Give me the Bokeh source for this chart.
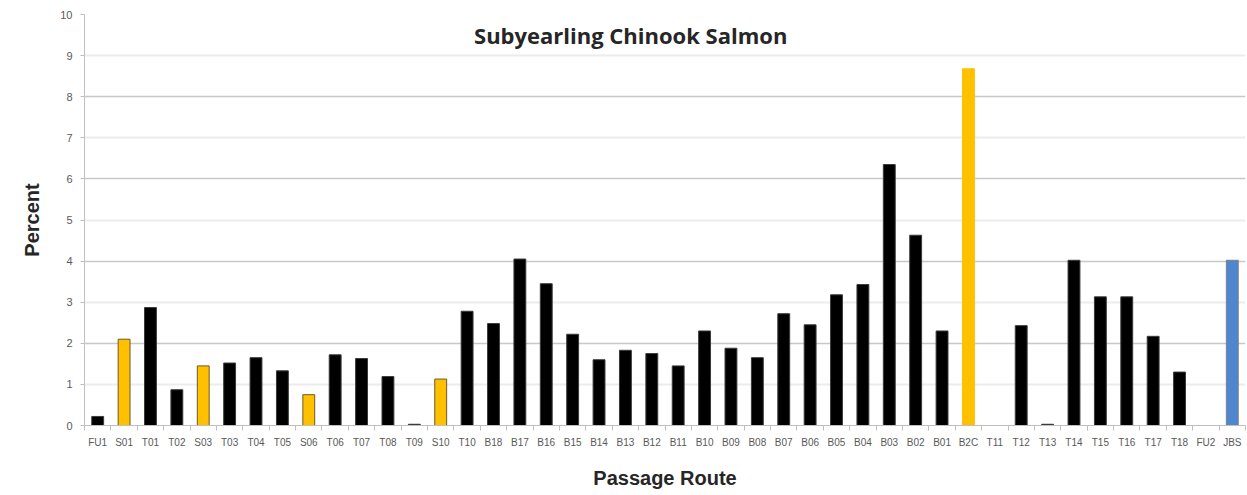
from bokeh.plotting import figure
from bokeh.models import FixedTicker, Label, Grid, ColumnDataSource, Range1d
from bokeh.embed import file_html
from bokeh.resources import INLINE

routes = ["FU1", "S01", "T01", "T02", "S03", "T03", "T04", "T05", "S06", "T06",
          "T07", "T08", "T09", "S10", "T10", "B18", "B17", "B16", "B15", "B14",
          "B13", "B12", "B11", "B10", "B09", "B08", "B07", "B06", "B05", "B04",
          "B03", "B02", "B01", "B2C", "T11", "T12", "T13", "T14", "T15", "T16",
          "T17", "T18", "FU2", "JBS"]
percent = [0.22, 2.10, 2.87, 0.87, 1.45, 1.52, 1.65, 1.33, 0.75, 1.72,
           1.63, 1.19, 0.03, 1.13, 2.78, 2.48, 4.05, 3.45, 2.22, 1.60,
           1.83, 1.75, 1.45, 2.30, 1.88, 1.65, 2.72, 2.45, 3.18, 3.43,
           6.35, 4.63, 2.30, 8.68, 0.0, 2.43, 0.03, 4.02, 3.13, 3.13,
           2.17, 1.30, 0.0, 4.02]
y_ticks = list(range(0, 11))

def fill_for(r):
    if r.startswith("S") or r == "B2C":
        return "#FFC000"
    if r == "JBS":
        return "#4F86D0"
    return "#000000"

def line_for(r):
    if r == "B2C":
        return "#FFC000"
    if r.startswith("S"):
        return "#6b5a2a"
    if r == "JBS":
        return "#7f7f7f"
    return "#3a3a3a"

xs = [i + 0.5 for i in range(len(routes))]
src = ColumnDataSource(dict(x=xs, top=percent, route=routes,
                            fill=[fill_for(r) for r in routes],
                            line=[line_for(r) for r in routes]))

p = figure(frame_width=1161, frame_height=411, output_backend="svg",
           toolbar_location=None, x_range=Range1d(0, len(routes)),
           y_range=Range1d(0, 10))
p.min_border_left = 84
p.min_border_right = 2
p.min_border_top = 14
p.min_border_bottom = 0
p.outline_line_color = None

p.vbar(x="x", top="top", width=0.45, source=src, fill_color="fill",
       line_color="line", line_width=1)

# x axis: labels at category centres, ticks at category boundaries
xa = p.xaxis[0]
xa.ticker = FixedTicker(ticks=xs, minor_ticks=list(range(len(routes) + 1)))
xa.major_label_overrides = {x: r for x, r in zip(xs, routes)}
xa.major_label_orientation = "horizontal"
xa.major_tick_line_color = None
xa.major_tick_in = 0
xa.major_tick_out = 0
xa.minor_tick_in = 0
xa.minor_tick_out = 5
xa.minor_tick_line_color = "#bfbfbf"
xa.axis_line_color = "#bfbfbf"
xa.major_label_text_font = "Liberation Sans"
xa.major_label_text_font_size = "10px"
xa.major_label_text_color = "#595959"
xa.major_label_standoff = 6
xa.axis_label = "Passage Route"
xa.axis_label_text_font = "Liberation Sans"
xa.axis_label_text_font_style = "bold"
xa.axis_label_text_font_size = "20px"
xa.axis_label_text_color = "#262626"
xa.axis_label_standoff = 16

# y axis
ya = p.yaxis[0]
ya.ticker = FixedTicker(ticks=y_ticks)
ya.minor_tick_line_color = None
ya.major_tick_in = 0
ya.major_tick_out = 4
ya.major_tick_line_color = "#bfbfbf"
ya.axis_line_color = "#bfbfbf"
ya.major_label_text_font = "Liberation Sans"
ya.major_label_text_font_size = "11px"
ya.major_label_text_color = "#595959"
ya.major_label_standoff = 8
ya.axis_label = "Percent"
ya.axis_label_text_font = "Liberation Sans"
ya.axis_label_text_font_style = "bold"
ya.axis_label_text_font_size = "20px"
ya.axis_label_text_color = "#262626"
ya.axis_label_standoff = 14

# grids
p.xgrid.visible = False
p.ygrid.ticker = FixedTicker(ticks=[t for t in y_ticks if t % 2 == 1])
p.ygrid.grid_line_color = "#ececec"
p.ygrid.grid_line_width = 2
g2 = Grid(dimension=1, ticker=FixedTicker(ticks=[t for t in y_ticks if t % 2 == 0 and t > 0]),
          grid_line_color="#c8c8c8", grid_line_width=1.5)
p.add_layout(g2)

p.add_layout(Label(x=20.7, y=9.49, text="Subyearling Chinook Salmon",
                   text_font="Open Sans", text_font_style="bold", text_font_size="22px",
                   text_color="#262626", text_align="center", text_baseline="middle"))

open("out.html", "w").write(file_html(p, INLINE))
